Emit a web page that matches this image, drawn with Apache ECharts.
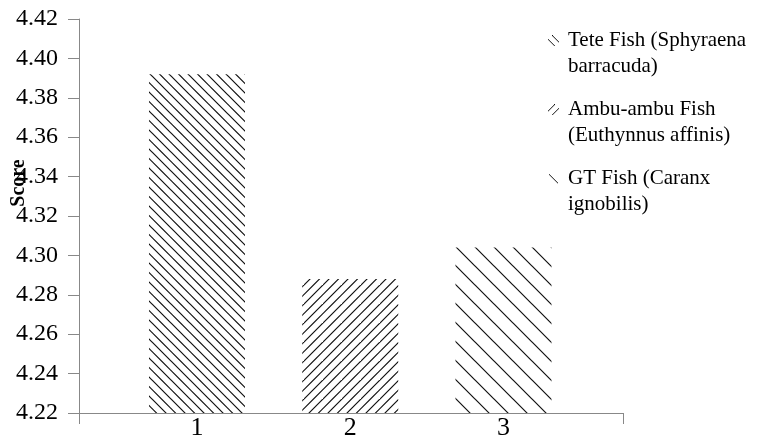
<!DOCTYPE html>
<html>
<head>
<meta charset="utf-8">
<script src="https://cdn.jsdelivr.net/npm/echarts@6/dist/echarts.min.js"></script>
<style>
  html, body { margin: 0; padding: 0; background: #fff; }
  #chart { width: 769px; height: 443px; }
</style>
</head>
<body>
<div id="chart"></div>
<script>
// Chart data
const categories = ['1', '2', '3'];
const seriesNames = [
  'Tete Fish (Sphyraena barracuda)',
  'Ambu-ambu Fish (Euthynnus affinis)',
  'GT Fish (Caranx ignobilis)'
];
const legendLines = [
  ['Tete Fish (Sphyraena', 'barracuda)'],
  ['Ambu-ambu Fish', '(Euthynnus affinis)'],
  ['GT Fish (Caranx', 'ignobilis)']
];
const scores = [4.392, 4.288, 4.304];
const yMin = 4.22;
const yMax = 4.42;
const yStep = 0.02;

const FONT = 'Liberation Serif';

// Diagonal hatch tile: dir 'back' = "\" lines, 'fwd' = "/" lines
function makeHatch(dir, spacing, tile) {
  const c = document.createElement('canvas');
  c.width = tile; c.height = tile;
  const ctx = c.getContext('2d');
  ctx.fillStyle = '#fff';
  ctx.fillRect(0, 0, tile, tile);
  ctx.strokeStyle = '#111';
  ctx.lineWidth = 1.2;
  ctx.beginPath();
  const n = Math.ceil(tile / spacing) + 1;
  for (let k = -n; k <= n; k++) {
    const o = k * spacing;
    if (dir === 'back') {
      ctx.moveTo(-2, o - 2); ctx.lineTo(tile + 2, tile + o + 2);
    } else {
      ctx.moveTo(-2, o + 2); ctx.lineTo(tile + 2, o - tile - 2);
    }
  }
  ctx.stroke();
  return c;
}

// Small legend glyphs
function makeIcon(dir, count) {
  const s = 11;
  const c = document.createElement('canvas');
  c.width = s; c.height = s;
  const ctx = c.getContext('2d');
  ctx.strokeStyle = '#111';
  ctx.lineWidth = 1;
  ctx.beginPath();
  for (let k = 0; k < count; k++) {
    const off = count === 1 ? 0 : (k === 0 ? -2 : 2);
    if (dir === 'back') {
      ctx.moveTo(1 + off, 1 - off); ctx.lineTo(10 + off, 10 - off);
    } else {
      ctx.moveTo(1 + off, 10 + off); ctx.lineTo(10 + off, 1 + off);
    }
  }
  ctx.stroke();
  return c;
}

const patterns = [
  makeHatch('back', 9.5, 19),
  makeHatch('fwd', 9.5, 19),
  makeHatch('back', 19, 19)
];
const icons = [makeIcon('back', 2), makeIcon('fwd', 2), makeIcon('back', 1)];

const rich = {
  t: { fontFamily: FONT, fontSize: 21, lineHeight: 25.5, color: '#000' },
  g: { width: 9, height: 11 },
  sp: { width: 20, height: 11 }
};
icons.forEach((ic, i) => {
  rich['ic' + i] = { width: 11, height: 11, backgroundColor: { image: ic } };
});

const chart = echarts.init(document.getElementById('chart'), null, { renderer: 'canvas' });

chart.setOption({
  animation: false,
  backgroundColor: '#fff',
  grid: { left: 79, right: 146, top: 19, bottom: 30, containLabel: false, outerBoundsMode: 'none' },
  legend: {
    orient: 'vertical',
    left: 538,
    top: 23,
    itemGap: 18,
    itemWidth: 0,
    itemHeight: 0,
    icon: 'none',
    selectedMode: false,
    data: seriesNames,
    formatter: function (name) {
      const i = seriesNames.indexOf(name);
      const l = legendLines[i];
      return '{ic' + i + '|}{g|}{t|' + l[0] + '}\n{sp|}{t|' + l[1] + '}';
    },
    textStyle: { fontFamily: FONT, fontSize: 21, lineHeight: 25.5, color: '#000', rich: rich }
  },
  xAxis: {
    type: 'value',
    min: 0.23,
    max: 3.78,
    splitLine: { show: false },
    axisLine: { show: true, lineStyle: { color: '#888', width: 1 } },
    axisTick: { show: true, length: 11, customValues: [0.23, 3.78], lineStyle: { color: '#888' } },
    axisLabel: {
      customValues: categories.map(Number),
      formatter: function (v) { return categories[Math.round(v) - 1]; },
      fontFamily: FONT, fontSize: 26, color: '#000', margin: 2
    }
  },
  yAxis: {
    type: 'value',
    min: yMin,
    max: yMax,
    interval: yStep,
    splitLine: { show: false },
    axisLine: { show: true, lineStyle: { color: '#888', width: 1 } },
    axisTick: { show: true, length: 11, lineStyle: { color: '#888' } },
    axisLabel: {
      fontFamily: FONT, fontSize: 24, color: '#000', margin: 21,
      formatter: function (v) { return v.toFixed(2); }
    },
    name: 'Score',
    nameLocation: 'middle',
    nameRotate: 90,
    nameGap: 50,
    nameMoveOverlap: false,
    nameTextStyle: {
      fontFamily: FONT, fontWeight: 'bold', fontSize: 20, color: '#000',
      padding: [0, 0, 0, 66]
    }
  },
  series: scores.map(function (v, i) {
    return {
      type: 'bar',
      name: seriesNames[i],
      data: [[Number(categories[i]), v]],
      barWidth: 96,
      barGap: '-100%',
      silent: true,
      itemStyle: { color: { image: patterns[i], repeat: 'repeat' } },
      emphasis: { disabled: true }
    };
  })
});
</script>
</body>
</html>
